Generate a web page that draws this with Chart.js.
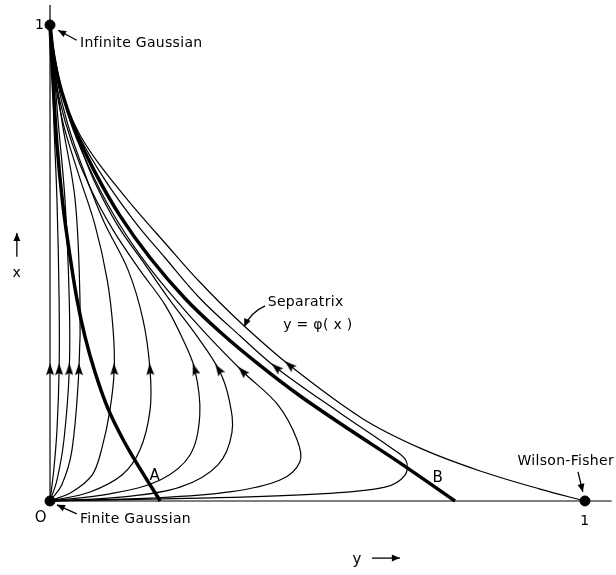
<!DOCTYPE html>
<html>
<head>
<meta charset="utf-8">
<script src="https://cdn.jsdelivr.net/npm/chart.js@4.4.1/dist/chart.umd.min.js"></script>
<style>
  html, body { margin: 0; padding: 0; background: #fff; }
  #wrap { width: 616px; height: 575px; }
</style>
</head>
<body>
<div id="wrap"><canvas id="grafico" width="616" height="575"></canvas></div>
<script>
// flow lines, each point is [y, x]  (y = horizontal, x = vertical)
var linhaC1 = [[0,0],[0.007,0.065],[0.013,0.149],[0.017,0.275],[0.017,0.422],[0.013,0.632],[0.007,0.800],[0.004,0.926],[0,1]];
var linhaC2 = [[0,0],[0.013,0.044],[0.026,0.128],[0.036,0.275],[0.036,0.422],[0.028,0.632],[0.015,0.800],[0.006,0.926],[0,1]];
var linhaC3 = [[0,0],[0.022,0.034],[0.041,0.107],[0.054,0.275],[0.056,0.422],[0.047,0.632],[0.022,0.800],[0.007,0.926],[0,1]];
var linhaC4 = [[0,0],[0.041,0.019],[0.079,0.055],[0.097,0.111],[0.112,0.191],[0.120,0.275],[0.118,0.359],[0.107,0.464],[0.084,0.580],[0.052,0.691],[0.024,0.796],[0.007,0.901],[0,1]];
var linhaC5 = [[0,0],[0.075,0.019],[0.135,0.055],[0.168,0.107],[0.187,0.191],[0.187,0.275],[0.174,0.380],[0.146,0.485],[0.101,0.586],[0.064,0.691],[0.032,0.796],[0.011,0.897],[0,1]];
var linhaC6 = [[0,0],[0.112,0.015],[0.206,0.044],[0.262,0.097],[0.280,0.181],[0.271,0.275],[0.249,0.338],[0.215,0.412],[0.168,0.485],[0.118,0.569],[0.075,0.658],[0.041,0.752],[0.017,0.847],[0.004,0.937],[0,1]];
var linhaC7 = [[0,0],[0.131,0.008],[0.243,0.029],[0.314,0.076],[0.340,0.143],[0.335,0.212],[0.316,0.275],[0.273,0.349],[0.224,0.422],[0.178,0.496],[0.127,0.578],[0.082,0.674],[0.049,0.769],[0.022,0.863],[0.006,0.947],[0,1]];
var linhaC8 = [[0,0],[0.187,0.006],[0.336,0.019],[0.430,0.044],[0.467,0.082],[0.462,0.128],[0.426,0.202],[0.361,0.271],[0.290,0.353],[0.224,0.437],[0.168,0.517],[0.116,0.607],[0.071,0.706],[0.037,0.800],[0.015,0.895],[0,1]];
var linhaC9 = [[0,0],[0.280,0.006],[0.505,0.015],[0.626,0.029],[0.664,0.055],[0.665,0.086],[0.636,0.113],[0.542,0.185],[0.424,0.279],[0.355,0.347],[0.280,0.426],[0.215,0.511],[0.159,0.586],[0.103,0.674],[0.056,0.763],[0.026,0.842],[0.009,0.922],[0,1]];
var separatriz = [[0,1],[0.006,0.947],[0.015,0.889],[0.030,0.832],[0.056,0.769],[0.093,0.706],[0.150,0.626],[0.215,0.542],[0.280,0.460],[0.355,0.376],[0.449,0.284],[0.583,0.174],[0.692,0.111],[0.804,0.063],[0.916,0.025],[1,0]];
// thick lines A and B
var linhaA = [[0.206,0],[0.172,0.061],[0.138,0.126],[0.108,0.195],[0.084,0.271],[0.065,0.347],[0.050,0.426],[0.037,0.517],[0.024,0.622],[0.013,0.748],[0.006,0.874],[0,1]];
var linhaB = [[0.757,0],[0.654,0.080],[0.561,0.149],[0.467,0.221],[0.389,0.288],[0.318,0.355],[0.252,0.426],[0.187,0.511],[0.131,0.599],[0.084,0.691],[0.047,0.779],[0.022,0.859],[0.007,0.933],[0,1]];
// axes
var eixoX = [[0,0],[0,1.042]];
var eixoY = [[0,0],[1.05,0]];
// fixed points: Finite Gaussian, Infinite Gaussian, Wilson-Fisher
var pontosFixos = [[0,0],[0,1],[1,0]];
// arrow heads [y, x, rotation]
var setas = [[0,0.275,0],[0.017,0.275,0],[0.036,0.275,0],[0.054,0.275,0],[0.120,0.275,-2],[0.187,0.275,-4],
  [0.271,0.275,-18],[0.316,0.275,-33],[0.361,0.271,-44],[0.424,0.279,-49],[0.449,0.284,-49]];

function pts(lista) {
    return lista.map(function(p) { return {x: p[0], y: p[1]}; });
}

function linha(lista, largura) {
    return {
        data: pts(lista), showLine: true, borderColor: '#000', borderWidth: largura,
        pointRadius: 0, tension: 0.35, fill: false, clip: false
    };
}

// narrow arrowhead image
let ponta = document.createElement('canvas');
ponta.width = 8; ponta.height = 14;
let pc = ponta.getContext('2d');
pc.fillStyle = '#000';
pc.beginPath(); pc.moveTo(4, 0); pc.lineTo(8, 12); pc.lineTo(4, 10); pc.lineTo(0, 12); pc.closePath(); pc.fill();

let textos = {
    id: 'textos',
    afterDatasetsDraw: function(chart) {
        let c = chart.ctx;
        let sx = chart.scales.x, sy = chart.scales.y;
        function P(a, b) { return [sx.getPixelForValue(a), sy.getPixelForValue(b)]; }
        function texto(t, a, b, alinhar, tam) {
            let p = P(a, b);
            c.save();
            c.font = (tam || 14) + 'px "DejaVu Sans", sans-serif';
            c.letterSpacing = '0.3px';
            c.textAlign = alinhar; c.textBaseline = 'middle';
            c.fillStyle = '#000';
            c.fillText(t, p[0], p[1]);
            c.restore();
        }
        function seta(a1, b1, a2, b2, curva) {
            let p1 = P(a1, b1), p2 = P(a2, b2);
            c.save();
            c.strokeStyle = '#000'; c.fillStyle = '#000'; c.lineWidth = 1.3;
            c.beginPath(); c.moveTo(p1[0], p1[1]);
            let ang;
            if (curva) {
                let cx = (p1[0] + p2[0]) / 2 + curva[0], cy = (p1[1] + p2[1]) / 2 + curva[1];
                c.quadraticCurveTo(cx, cy, p2[0], p2[1]);
                ang = Math.atan2(p2[1] - cy, p2[0] - cx);
            } else {
                c.lineTo(p2[0], p2[1]);
                ang = Math.atan2(p2[1] - p1[1], p2[0] - p1[0]);
            }
            c.stroke();
            c.translate(p2[0], p2[1]); c.rotate(ang);
            c.beginPath(); c.moveTo(0, 0); c.lineTo(-8, -3.5); c.lineTo(-8, 3.5); c.closePath(); c.fill();
            c.restore();
        }
        texto('1', -0.011, 1.0, 'right', 14);
        texto('Infinite Gaussian', 0.056, 0.962, 'left', 14);
        seta(0.050, 0.968, 0.015, 0.989);
        texto('O', -0.017, -0.036, 'center', 15);
        texto('Finite Gaussian', 0.056, -0.038, 'left', 14);
        seta(0.050, -0.027, 0.013, -0.008);
        texto('Wilson-Fisher', 0.964, 0.084, 'center', 14);
        seta(0.987, 0.061, 0.996, 0.019);
        texto('1', 1.0, -0.042, 'center', 14);
        texto('y', 0.574, -0.124, 'center', 15);
        seta(0.602, -0.120, 0.654, -0.120);
        texto('x', -0.062, 0.479, 'center', 14);
        seta(-0.062, 0.513, -0.062, 0.563);
        texto('Separatrix', 0.407, 0.418, 'left', 14);
        texto('y = \u03c6( x )', 0.436, 0.370, 'left', 14);
        seta(0.402, 0.410, 0.363, 0.366, [-4, -4]);
        texto('A', 0.196, 0.053, 'center', 15);
        texto('B', 0.725, 0.048, 'center', 15);
    }
};

let dados = {
    datasets: [
        linha(eixoX, 1.2), linha(eixoY, 1.2),
        linha(linhaC1, 1.2), linha(linhaC2, 1.2), linha(linhaC3, 1.2), linha(linhaC4, 1.2),
        linha(linhaC5, 1.2), linha(linhaC6, 1.2), linha(linhaC7, 1.2), linha(linhaC8, 1.2),
        linha(linhaC9, 1.2), linha(separatriz, 1.2),
        linha(linhaA, 3.5), linha(linhaB, 3.5),
        {
            data: pts(pontosFixos), pointRadius: 5, pointBackgroundColor: '#000',
            pointBorderColor: '#000', showLine: false, clip: false
        },
        {
            data: setas.map(function(s) { return {x: s[0], y: s[1]}; }),
            pointStyle: ponta, rotation: setas.map(function(s) { return s[2]; }),
            showLine: false, clip: false
        }
    ]
};

let options = {
    responsive: false,
    animation: false,
    layout: { padding: 0, autoPadding: false },
    plugins: { legend: { display: false }, tooltip: { enabled: false } },
    scales: {
        x: { type: 'linear', display: false, min: -0.0935, max: 1.058 },
        y: { type: 'linear', display: false, min: -0.1555, max: 1.0525 }
    }
};

let ctx = document.getElementById('grafico').getContext('2d');
var graficoChart = new Chart(ctx, {
    type: 'scatter',
    data: dados,
    options: options,
    plugins: [textos]
});
</script>
</body>
</html>
